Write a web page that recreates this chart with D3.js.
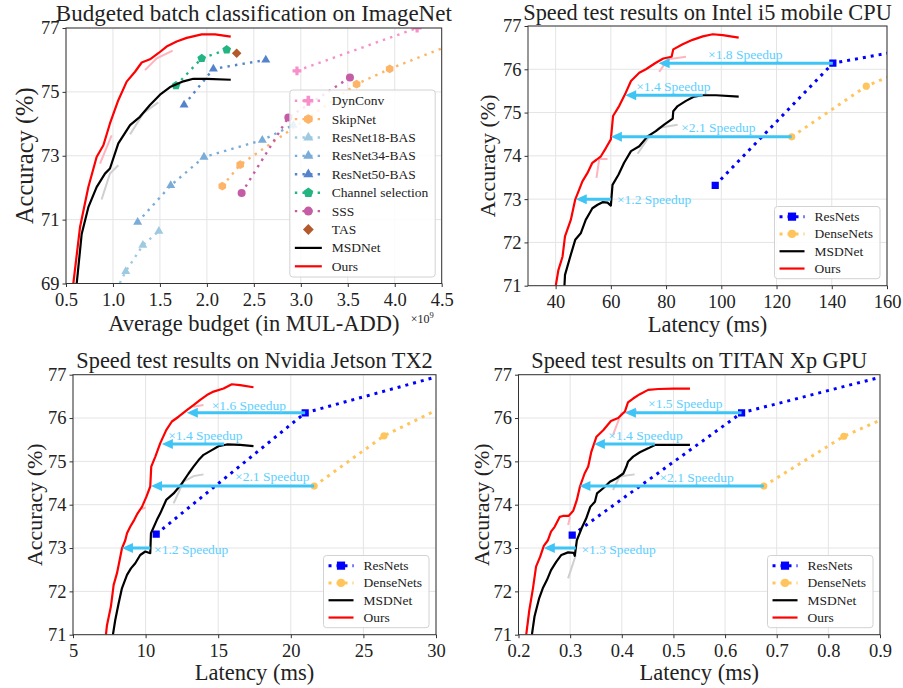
<!DOCTYPE html>
<html>
<head>
<meta charset="utf-8">
<script src="https://cdn.jsdelivr.net/npm/d3@7"></script>
<style>
  body { margin: 0; background: #fff; }
  svg text { font-family: "Liberation Serif", "DejaVu Serif", serif; fill: #222; }
</style>
</head>
<body>
<div id="chart"></div>
<script>
// ---------- Budgeted batch classification on ImageNet (x in 1e9 MUL-ADD) ----------
const budgetOurs = [[0.578,69.0],[0.649,70.76],[0.738,72.02],[0.826,72.96],[0.898,73.33],[0.968,74.01],[1.057,74.74],[1.146,75.32],[1.235,75.63],[1.306,75.92],[1.394,76.02],[1.483,76.21],[1.571,76.42],[1.678,76.58],[1.785,76.69],[1.945,76.80],[2.087,76.80],[2.254,76.73]];
const budgetMsd = [[0.614,69.0],[0.667,70.55],[0.738,71.39],[0.826,72.02],[0.915,72.44],[0.968,72.6],[1.057,73.39],[1.182,73.96],[1.287,74.22],[1.394,74.59],[1.501,74.91],[1.608,75.15],[1.75,75.33],[1.856,75.41],[1.998,75.41],[2.254,75.38]];
const budgetDynConv = [[2.959,75.66],[4.238,77.0],[4.601,77.4]];
const budgetSkipNet = [[2.164,72.05],[2.355,72.72],[3.594,75.24],[3.946,75.72],[4.621,76.5]];
const budgetRes18 = [[1.036,68.8],[1.136,69.38],[1.318,70.2],[1.489,70.64]];
const budgetRes34 = [[1.263,70.92],[1.615,72.07],[1.969,72.96],[2.59,73.49],[2.919,73.96]];
const budgetRes50 = [[1.757,74.59],[2.069,75.72],[2.627,76.0]];
const budgetChannel = [[1.671,75.2],[1.945,76.05],[2.211,76.32]];
const budgetSSS = [[2.37,71.83],[2.867,74.2],[3.523,75.45]];
const budgetTAS = [[2.317,76.21]];
const budgetGhostGray = [[[0.879,71.63],[0.968,72.44],[1.057,72.7]], [[1.182,73.67],[1.324,74.33],[1.483,74.67]]];
const budgetGhostPink = [[[0.862,72.75],[0.986,73.64]], [[1.341,75.68],[1.466,76.05],[1.636,76.29]]];

// ---------- Intel i5 mobile CPU (latency ms) ----------
const cpuOurs = [[40.05,71.0],[41.0,71.36],[42.5,71.67],[43.4,72.14],[45.5,72.52],[47.1,72.99],[49.7,73.41],[51.5,73.6],[53.3,73.84],[54.8,73.91],[56.4,73.99],[58.2,74.18],[60.0,74.38],[60.8,74.92],[63.0,75.15],[65.4,75.46],[67.3,75.73],[70.3,75.92],[72.7,76.0],[76.3,76.15],[79.0,76.25],[82.0,76.29],[82.6,76.46],[86.0,76.58],[89.6,76.68],[93.3,76.76],[96.9,76.81],[100.5,76.79],[106.3,76.73]];
const cpuMsd = [[43.2,71.0],[43.4,71.25],[45.1,71.63],[47.1,72.06],[49.1,72.21],[50.9,72.52],[52.7,72.72],[53.3,72.79],[55.2,72.87],[57.0,72.93],[58.8,72.92],[60.0,72.85],[60.6,73.33],[62.8,73.57],[64.8,73.84],[67.3,74.11],[70.3,74.22],[73.3,74.45],[76.3,74.57],[79.3,74.72],[82.4,74.86],[82.6,75.03],[84.2,75.15],[87.2,75.27],[90.2,75.37],[93.3,75.4],[98.1,75.4],[106.3,75.37]];
const cpuResNets = [[97.8,73.32],[140.4,76.14],[246,77.37]];
const cpuDenseNets = [[125.5,74.44],[152.5,75.61],[200,76.9]];
const cpuGhostGray = [[[69.7,74.05],[73.9,74.45],[77.5,74.65],[84.2,74.72]]];
const cpuGhostPink = [[[54.8,73.49],[55.8,73.93],[58.8,73.93]], [[77.5,75.94],[80.6,76.23],[87.2,76.29]]];
const cpuArrows = [
  {from: 140.4, to: 77.3, acc: 76.14, label: '×1.8 Speedup', lx: 95.2, ly: 76.33},
  {from: 93.3, to: 65.2, acc: 75.4, label: '×1.4 Speedup', lx: 69.2, ly: 75.6},
  {from: 125.5, to: 60.0, acc: 74.44, label: '×2.1 Speedup', lx: 85.5, ly: 74.65},
  {from: 60.0, to: 47.3, acc: 73.0, label: '×1.2 Speedup', lx: 62.2, ly: 72.99}
];

// ---------- Nvidia Jetson TX2 ----------
const tx2Ours = [[7.27,71.0],[7.34,71.22],[7.61,71.65],[7.8,72.15],[8.03,72.42],[8.21,72.72],[8.37,72.99],[8.6,73.18],[8.72,73.34],[8.94,73.49],[9.22,73.65],[9.45,73.8],[9.75,73.95],[10.05,74.18],[10.32,74.42],[10.39,74.88],[10.67,75.11],[11.01,75.42],[11.42,75.72],[11.81,75.92],[12.27,76.03],[12.84,76.18],[13.3,76.3],[13.76,76.42],[14.22,76.53],[14.68,76.61],[15.37,76.68],[15.94,76.78],[16.51,76.76],[17.43,76.71]];
const tx2Msd = [[7.75,71.0],[7.91,71.34],[8.14,71.72],[8.37,72.07],[8.72,72.38],[8.99,72.53],[9.29,72.65],[9.63,72.84],[9.98,72.92],[10.32,72.88],[10.37,73.34],[10.78,73.65],[11.01,73.8],[11.42,74.11],[11.93,74.26],[12.5,74.49],[12.96,74.72],[13.3,74.88],[13.65,75.03],[13.99,75.15],[14.56,75.26],[15.02,75.35],[15.6,75.39],[16.51,75.38],[17.43,75.35]];
const tx2ResNets = [[10.73,73.32],[20.99,76.12],[34.6,77.37]];
const tx2DenseNets = [[21.61,74.43],[26.42,75.59],[34.4,76.9]];
const tx2GhostGray = [[[11.93,74.03],[12.61,74.53],[13.3,74.66],[13.99,74.7]]];
const tx2GhostPink = [[[9.7,73.9],[10.0,73.93]], [[13.3,76.26],[13.99,76.3]]];
const tx2Arrows = [
  {from: 20.99, to: 12.84, acc: 76.12, label: '×1.6 Speedup', lx: 14.55, ly: 76.3},
  {from: 15.4, to: 11.12, acc: 75.4, label: '×1.4 Speedup', lx: 11.56, ly: 75.59},
  {from: 21.61, to: 10.37, acc: 74.43, label: '×2.1 Speedup', lx: 16.16, ly: 74.65},
  {from: 10.32, to: 8.37, acc: 73.0, label: '×1.2 Speedup', lx: 10.58, ly: 72.97}
];

// ---------- TITAN Xp GPU ----------
const titanOurs = [[0.215,71.0],[0.221,71.57],[0.228,72.07],[0.234,72.57],[0.242,72.8],[0.249,73.05],[0.257,73.18],[0.263,73.38],[0.27,73.49],[0.28,73.72],[0.286,73.74],[0.297,73.74],[0.306,73.86],[0.313,74.11],[0.319,74.42],[0.328,74.72],[0.335,74.88],[0.341,75.22],[0.351,75.57],[0.364,75.72],[0.379,75.93],[0.393,76.0],[0.406,76.15],[0.412,76.36],[0.422,76.45],[0.435,76.55],[0.451,76.65],[0.471,76.67],[0.5,76.68],[0.532,76.68]];
const titanMsd = [[0.226,71.0],[0.231,71.42],[0.24,71.84],[0.247,72.07],[0.255,72.26],[0.263,72.49],[0.273,72.68],[0.283,72.84],[0.296,72.9],[0.307,72.89],[0.309,72.82],[0.313,73.18],[0.322,73.45],[0.331,73.68],[0.339,73.95],[0.348,74.07],[0.352,74.26],[0.364,74.38],[0.377,74.53],[0.39,74.61],[0.403,74.72],[0.409,74.88],[0.412,74.99],[0.422,75.11],[0.435,75.21],[0.451,75.3],[0.464,75.38],[0.487,75.38],[0.532,75.38]];
const titanResNets = [[0.304,73.3],[0.632,76.12],[1.04,77.37]];
const titanDenseNets = [[0.675,74.43],[0.83,75.58],[1.08,76.9]];
const titanGhostGray = [[[0.296,72.3],[0.311,72.84]], [[0.383,74.34],[0.396,74.65],[0.425,74.7]]];
const titanGhostPink = [[[0.296,73.53],[0.3,73.72]], [[0.383,75.61],[0.399,76.11],[0.429,76.18]]];
const titanArrows = [
  {from: 0.632, to: 0.406, acc: 76.12, label: '×1.5 Speedup', lx: 0.451, ly: 76.33},
  {from: 0.464, to: 0.346, acc: 75.4, label: '×1.4 Speedup', lx: 0.374, ly: 75.59},
  {from: 0.675, to: 0.318, acc: 74.43, label: '×2.1 Speedup', lx: 0.473, ly: 74.63},
  {from: 0.311, to: 0.249, acc: 73.0, label: '×1.3 Speedup', lx: 0.322, ly: 72.97}
];

const accTicks2 = [69, 71, 73, 75, 77];
const accTicks1 = [71, 72, 73, 74, 75, 76, 77];

// ---------- drawing ----------
const svg = d3.select('#chart').append('svg')
  .attr('width', 903).attr('height', 688)
  .style('background', '#fff');

const arrowColor = '#3ec5f5';
const arrowText = '#5ccfff';

function polyPath(n, r, start) {
  const pts = d3.range(n).map(i => {
    const a = start + i * 2 * Math.PI / n;
    return [r * Math.cos(a), r * Math.sin(a)];
  });
  return 'M' + pts.map(p => p[0].toFixed(2) + ',' + p[1].toFixed(2)).join('L') + 'Z';
}

function markerPath(type, r) {
  switch (type) {
    case 'square': return polyPath(4, r * 1.414, Math.PI / 4);
    case 'circle': return d3.symbol(d3.symbolCircle, Math.PI * r * r)();
    case 'triangle': return polyPath(3, r * 1.3, -Math.PI / 2);
    case 'diamond': return polyPath(4, r * 1.2, 0);
    case 'pentagon': return polyPath(5, r * 1.15, -Math.PI / 2);
    case 'hexagon': return polyPath(6, r * 1.1, -Math.PI / 2);
    case 'plus': {
      const a = r * 0.4, b = r * 1.1;
      return `M${-a},${-b}H${a}V${-a}H${b}V${a}H${a}V${b}H${-a}V${a}H${-b}V${-a}H${-a}Z`;
    }
  }
}

function drawPanel(p) {
  const b = p.box;
  const x = d3.scaleLinear().domain(p.xDomain).range([b.left, b.right]);
  const y = d3.scaleLinear().domain(p.yDomain).range([b.bottom, b.top]);
  const g = svg.append('g');

  svg.append('clipPath').attr('id', 'clip-' + p.id)
    .append('rect')
      .attr('x', b.left).attr('y', b.top)
      .attr('width', b.right - b.left).attr('height', b.bottom - b.top);

  // grid
  g.append('g').selectAll('line').data(p.xTicks).join('line')
    .attr('x1', d => x(d)).attr('x2', d => x(d))
    .attr('y1', b.top).attr('y2', b.bottom)
    .attr('stroke', '#e4e4e4').attr('stroke-width', 1);
  g.append('g').selectAll('line').data(p.yTicks).join('line')
    .attr('y1', d => y(d)).attr('y2', d => y(d))
    .attr('x1', b.left).attr('x2', b.right)
    .attr('stroke', '#e4e4e4').attr('stroke-width', 1);

  // axes
  g.append('g')
    .attr('transform', `translate(0,${b.bottom})`)
    .call(d3.axisBottom(x).tickValues(p.xTicks).tickFormat(p.xFormat).tickSize(3.5).tickPadding(6))
    .call(a => a.select('.domain').remove())
    .attr('font-size', 18.5).attr('font-family', null).attr('color', '#333');
  g.append('g')
    .attr('transform', `translate(${b.left},0)`)
    .call(d3.axisLeft(y).tickValues(p.yTicks).tickFormat(d3.format('d')).tickSize(3.5).tickPadding(3))
    .call(a => a.select('.domain').remove())
    .attr('font-size', 18.5).attr('font-family', null).attr('color', '#333');

  const plot = g.append('g').attr('clip-path', `url(#clip-${p.id})`);
  const line = d3.line().x(d => x(d[0])).y(d => y(d[1]));

  // faint overlays
  plot.selectAll('.ghost-gray').data(p.ghostGray).join('path')
    .attr('class', 'ghost-gray').attr('d', line)
    .attr('fill', 'none').attr('stroke', '#cfcfcf').attr('stroke-width', 2);
  plot.selectAll('.ghost-pink').data(p.ghostPink).join('path')
    .attr('class', 'ghost-pink').attr('d', line)
    .attr('fill', 'none').attr('stroke', '#ffb3bd').attr('stroke-width', 2);

  // series
  p.series.forEach(s => {
    if (s.kind !== 'marker') {
      plot.append('path').datum(s.data)
        .attr('d', line)
        .attr('fill', 'none')
        .attr('stroke', s.color)
        .attr('stroke-width', s.kind === 'dotted' ? p.dotWidth : 2.2)
        .attr('stroke-dasharray', s.kind === 'dotted' ? p.dotDash : null)
        .attr('stroke-linejoin', 'round');
    }
    if (s.marker) {
      plot.selectAll(null).data(s.data).join('path')
        .attr('transform', d => `translate(${x(d[0])},${y(d[1])})`)
        .attr('d', markerPath(s.marker, p.markerR))
        .attr('fill', s.color);
    }
  });

  // speedup arrows
  (p.arrows || []).forEach(a => {
    const yy = y(a.acc), tip = x(a.to), headL = 11, headW = 10;
    plot.append('line')
      .attr('x1', x(a.from)).attr('x2', tip + headL - 1)
      .attr('y1', yy).attr('y2', yy)
      .attr('stroke', arrowColor).attr('stroke-width', 3);
    plot.append('path')
      .attr('d', `M${tip},${yy}L${tip + headL},${yy - headW / 2}L${tip + headL},${yy + headW / 2}Z`)
      .attr('fill', arrowColor);
    g.append('text')
      .attr('x', x(a.lx)).attr('y', y(a.ly))
      .attr('dominant-baseline', 'central')
      .attr('font-size', 13.5)
      .style('fill', arrowText)
      .text(a.label);
  });

  // frame
  g.append('rect')
    .attr('x', b.left).attr('y', b.top)
    .attr('width', b.right - b.left).attr('height', b.bottom - b.top)
    .attr('fill', 'none').attr('stroke', '#333').attr('stroke-width', 1);

  // titles and labels
  g.append('text')
    .attr('x', (b.left + b.right) / 2).attr('y', p.titleY)
    .attr('text-anchor', 'middle').attr('font-size', p.titleSize)
    .text(p.title);
  g.append('text')
    .attr('x', (b.left + b.right) / 2).attr('y', p.xLabelY)
    .attr('text-anchor', 'middle').attr('font-size', 22.5)
    .text(p.xLabel);
  g.append('text')
    .attr('transform', `translate(${p.yLabelX},${(b.top + b.bottom) / 2}) rotate(-90)`)
    .attr('text-anchor', 'middle').attr('font-size', p.yLabelSize)
    .text('Accuracy (%)');
  if (p.offsetText) {
    const t = g.append('text')
      .attr('x', b.right - 8).attr('y', b.bottom + 39)
      .attr('text-anchor', 'end').attr('font-size', 12);
    t.append('tspan').text('×10');
    t.append('tspan').attr('dy', -5).attr('font-size', 8.5).text('9');
  }

  drawLegend(g, p);
}

function drawLegend(g, p) {
  const b = p.box, o = p.legend;
  const lg = g.append('g');
  const rect = lg.append('rect');
  const rows = p.series.length;
  const h = rows * o.rowH + 3;
  const top = b.bottom - o.pad - h;
  const items = [];
  p.series.forEach((s, i) => {
    const cy = top + 1.5 + o.rowH * (i + 0.5);
    const item = lg.append('g').attr('class', 'legend-line');
    item.append('text').attr('y', cy).attr('dominant-baseline', 'central')
      .attr('font-size', 13.5).text(s.label);
    items.push(item);
  });
  const textW = d3.max(items, t => t.select('text').node().getComputedTextLength());
  const w = 5 + o.handle + 10 + textW + 7;
  const left = b.right - o.pad - w;
  rect.attr('x', left).attr('y', top).attr('width', w).attr('height', h)
    .attr('rx', 3).attr('fill', '#fff').attr('fill-opacity', 0.85)
    .attr('stroke', '#d2d2d2');
  p.series.forEach((s, i) => {
    const item = items[i];
    const cy = top + 1.5 + o.rowH * (i + 0.5);
    const hx = left + 5;
    item.select('text').attr('x', hx + o.handle + 10);
    if (s.kind !== 'marker') {
      item.append('line')
        .attr('x1', hx).attr('x2', hx + o.handle)
        .attr('y1', cy).attr('y2', cy)
        .attr('stroke', s.color)
        .attr('stroke-width', s.kind === 'dotted' ? p.dotWidth : 2.2)
        .attr('stroke-dasharray', s.kind === 'dotted' ? p.dotDash : null);
    }
    if (s.marker) {
      item.append('path')
        .attr('transform', `translate(${hx + o.handle / 2},${cy})`)
        .attr('d', markerPath(s.marker, p.markerR + 0.5))
        .attr('fill', s.color);
    }
  });
}

const tick1 = d3.format('.1f');

drawPanel({
  id: 'budget',
  box: {left: 66, right: 441.7, top: 28, bottom: 283.5},
  xDomain: [0.5, 4.5], yDomain: [69, 77],
  xTicks: d3.range(0.5, 4.51, 0.5), yTicks: accTicks2, xFormat: tick1,
  title: 'Budgeted batch classification on ImageNet', titleY: 21, titleSize: 23,
  xLabel: 'Average budget (in MUL-ADD)', xLabelY: 331, yLabelX: 33, yLabelSize: 24.5,
  offsetText: true,
  dotWidth: 2.4, dotDash: '2.4,5.2', markerR: 4,
  ghostGray: budgetGhostGray, ghostPink: budgetGhostPink,
  legend: {rowH: 18.4, handle: 27, pad: 6.5},
  series: [
    {label: 'DynConv', data: budgetDynConv, color: '#f78fca', kind: 'dotted', marker: 'plus'},
    {label: 'SkipNet', data: budgetSkipNet, color: '#fdb467', kind: 'dotted', marker: 'hexagon'},
    {label: 'ResNet18-BAS', data: budgetRes18, color: '#9ecae1', kind: 'dotted', marker: 'triangle'},
    {label: 'ResNet34-BAS', data: budgetRes34, color: '#79acd8', kind: 'dotted', marker: 'triangle'},
    {label: 'ResNet50-BAS', data: budgetRes50, color: '#5583cb', kind: 'dotted', marker: 'triangle'},
    {label: 'Channel selection', data: budgetChannel, color: '#22b582', kind: 'dotted', marker: 'pentagon'},
    {label: 'SSS', data: budgetSSS, color: '#c45ca6', kind: 'dotted', marker: 'circle'},
    {label: 'TAS', data: budgetTAS, color: '#b4592b', kind: 'marker', marker: 'diamond'},
    {label: 'MSDNet', data: budgetMsd, color: '#000', kind: 'line'},
    {label: 'Ours', data: budgetOurs, color: '#ff0000', kind: 'line'}
  ]
});

function speedSeries(res, dense, msd, ours) {
  return [
    {label: 'ResNets', data: res, color: '#0000ff', kind: 'dotted', marker: 'square'},
    {label: 'DenseNets', data: dense, color: '#ffc55c', kind: 'dotted', marker: 'circle'},
    {label: 'MSDNet', data: msd, color: '#000', kind: 'line'},
    {label: 'Ours', data: ours, color: '#ff0000', kind: 'line'}
  ];
}

const speedCommon = {
  yDomain: [71, 77], yTicks: accTicks1,
  xLabel: 'Latency (ms)', titleSize: 22.3, yLabelSize: 22,
  dotWidth: 3, dotDash: '3,5', markerR: 3.6,
  legend: {rowH: 17.3, handle: 25, pad: 7}
};

drawPanel(Object.assign({}, speedCommon, {
  id: 'cpu',
  box: {left: 528, right: 887, top: 26, bottom: 285.7},
  xDomain: [30, 160], xTicks: d3.range(40, 161, 20), xFormat: d3.format('d'),
  title: 'Speed test results on Intel i5 mobile CPU', titleY: 20,
  xLabelY: 332, yLabelX: 495,
  ghostGray: cpuGhostGray, ghostPink: cpuGhostPink,
  arrows: cpuArrows,
  series: speedSeries(cpuResNets, cpuDenseNets, cpuMsd, cpuOurs)
}));

drawPanel(Object.assign({}, speedCommon, {
  id: 'tx2',
  box: {left: 73, right: 436, top: 374.7, bottom: 634.7},
  xDomain: [5, 30], xTicks: d3.range(5, 31, 5), xFormat: d3.format('d'),
  title: 'Speed test results on Nvidia Jetson TX2', titleY: 368,
  xLabelY: 680, yLabelX: 42,
  ghostGray: tx2GhostGray, ghostPink: tx2GhostPink,
  arrows: tx2Arrows,
  series: speedSeries(tx2ResNets, tx2DenseNets, tx2Msd, tx2Ours)
}));

drawPanel(Object.assign({}, speedCommon, {
  id: 'titan',
  box: {left: 518.5, right: 880, top: 374.7, bottom: 634.7},
  xDomain: [0.2, 0.9], xTicks: d3.range(0.2, 0.901, 0.1), xFormat: tick1,
  title: 'Speed test results on TITAN Xp GPU', titleY: 368,
  xLabelY: 680, yLabelX: 489,
  ghostGray: titanGhostGray, ghostPink: titanGhostPink,
  arrows: titanArrows,
  series: speedSeries(titanResNets, titanDenseNets, titanMsd, titanOurs)
}));
</script>
</body>
</html>
